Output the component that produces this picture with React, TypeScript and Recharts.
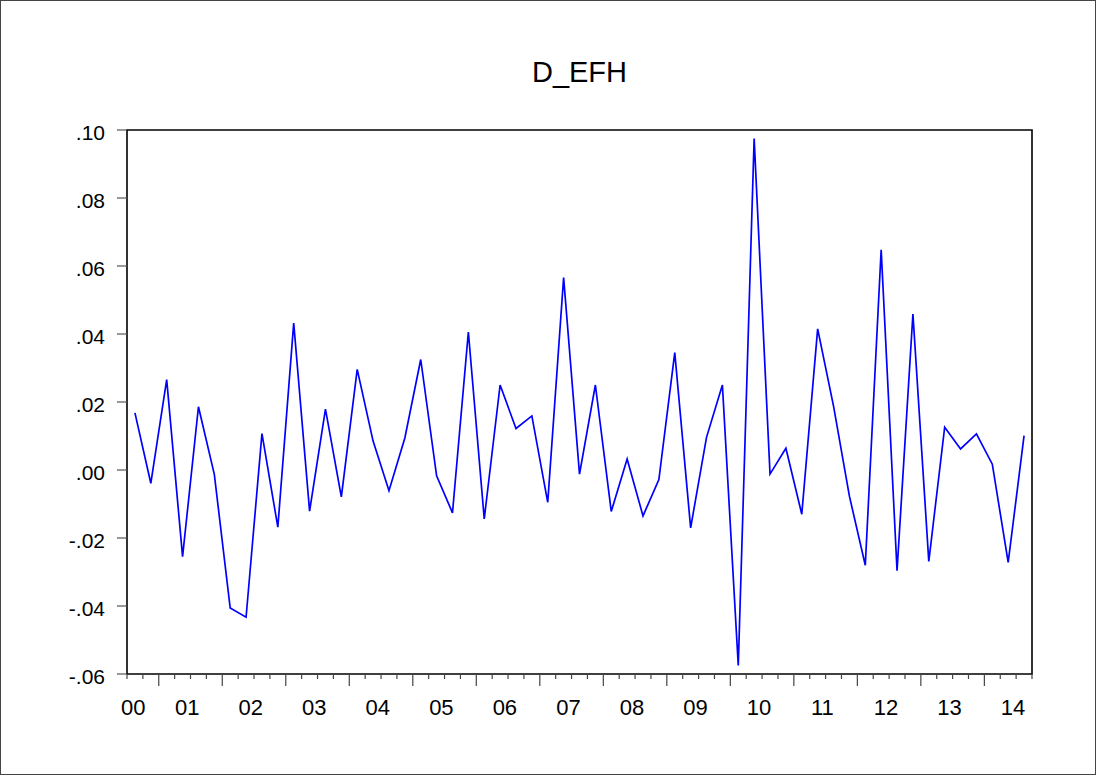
import { LineChart, Line, XAxis, YAxis, ReferenceArea } from 'recharts'

// quarterly series, 2000Q3 .. 2014Q3
const yearLabels = ['00', '01', '02', '03', '04', '05', '06', '07', '08', '09', '10', '11', '12', '13', '14']
const firstQuarter = 3

const dEfh = [
  0.0168, -0.0039, 0.0266, -0.0255, 0.0186, -0.0013, -0.0406, -0.0433, 0.0107, -0.0168,
  0.0432, -0.0121, 0.0179, -0.0079, 0.0296, 0.0085, -0.0061, 0.0094, 0.0325, -0.0017,
  -0.0126, 0.0406, -0.0144, 0.025, 0.0122, 0.0159, -0.0095, 0.0566, -0.0012, 0.025,
  -0.0122, 0.0032, -0.0135, -0.0028, 0.0345, -0.017, 0.0096, 0.025, -0.0575, 0.0975,
  -0.0012, 0.0064, -0.013, 0.0415, 0.0188, -0.0077, -0.028, 0.0648, -0.0296, 0.0459,
  -0.0269, 0.0126, 0.0062, 0.0106, 0.0017, -0.0272, 0.0101,
]

const yTicks = [-0.06, -0.04, -0.02, 0, 0.02, 0.04, 0.06, 0.08, 0.1]

const data = dEfh.map((v, i) => ({ t: i + 0.5, v }))
const nQ = dEfh.length
const quarterTicks = Array.from({ length: nQ + 1 }, (_, i) => i)
// label sits in the middle of each year; the first (partial) year is pushed inside the axis
const yearTicks = yearLabels.map((_, j) => (j === 0 ? 0.4 : 4 * j - 0.2))

const font = '"Liberation Sans", Arial, sans-serif'

const fmtY = (v: number) => v.toFixed(2).replace(/^(-?)0/, '$1')

function QuarterTick(props: any) {
  const { x, y, payload } = props
  const yearStart = (payload.value + firstQuarter - 1) % 4 === 0
  return <line x1={x} x2={x} y1={y} y2={y + (yearStart ? 12 : 5)} stroke="#444" strokeWidth={1.2} />
}

function YearTick(props: any) {
  const { x, y, index } = props
  return (
    <text x={x} y={y + 27} textAnchor="middle" fontSize={22} fontFamily={font} fill="#000">
      {yearLabels[index]}
    </text>
  )
}

function ValueTick(props: any) {
  const { x, y, payload } = props
  return (
    <g>
      <line x1={x - 10} x2={x} y1={y} y2={y} stroke="#555" strokeWidth={1.2} />
      <text x={x - 22} y={y + 10} textAnchor="end" fontSize={21} fontFamily={font} fill="#000">
        {fmtY(payload.value)}
      </text>
    </g>
  )
}

export default function App() {
  return (
    <div style={{ position: 'absolute', left: 0, top: 0, width: 1096, height: 776, background: '#fff' }}>
      <div
        style={{
          position: 'absolute', left: 0, top: 0, width: 1096, height: 775,
          border: '1px solid #444', boxSizing: 'border-box',
        }}
      />
      <div
        style={{
          position: 'absolute', left: 127, top: 58, width: 905, textAlign: 'center',
          fontFamily: font, fontSize: 29, lineHeight: '29px', color: '#000',
        }}
      >
        D_EFH
      </div>
      <LineChart width={1096} height={776} data={data} margin={{ top: 130, right: 64, bottom: 42, left: 67 }}>
        <XAxis
          dataKey="t"
          type="number"
          domain={[0, nQ]}
          ticks={quarterTicks}
          interval={0}
          height={14}
          axisLine={false}
          tickLine={false}
          tickSize={0}
          tickMargin={0}
          tick={<QuarterTick />}
        />
        <XAxis
          xAxisId="yr"
          dataKey="t"
          type="number"
          domain={[0, nQ]}
          ticks={yearTicks}
          interval={0}
          height={46}
          axisLine={false}
          tickLine={false}
          tickSize={0}
          tickMargin={0}
          tick={<YearTick />}
        />
        <YAxis
          type="number"
          domain={[-0.06, 0.1]}
          ticks={yTicks}
          interval={0}
          width={60}
          axisLine={false}
          tickLine={false}
          tickSize={0}
          tickMargin={0}
          tick={<ValueTick />}
        />
        <ReferenceArea x1={0} x2={nQ} y1={-0.06} y2={0.1} fill="none" stroke="#000" strokeWidth={1.6} />
        <Line
          type="linear"
          dataKey="v"
          stroke="#0000ff"
          strokeWidth={1.7}
          dot={false}
          isAnimationActive={false}
        />
      </LineChart>
    </div>
  )
}
